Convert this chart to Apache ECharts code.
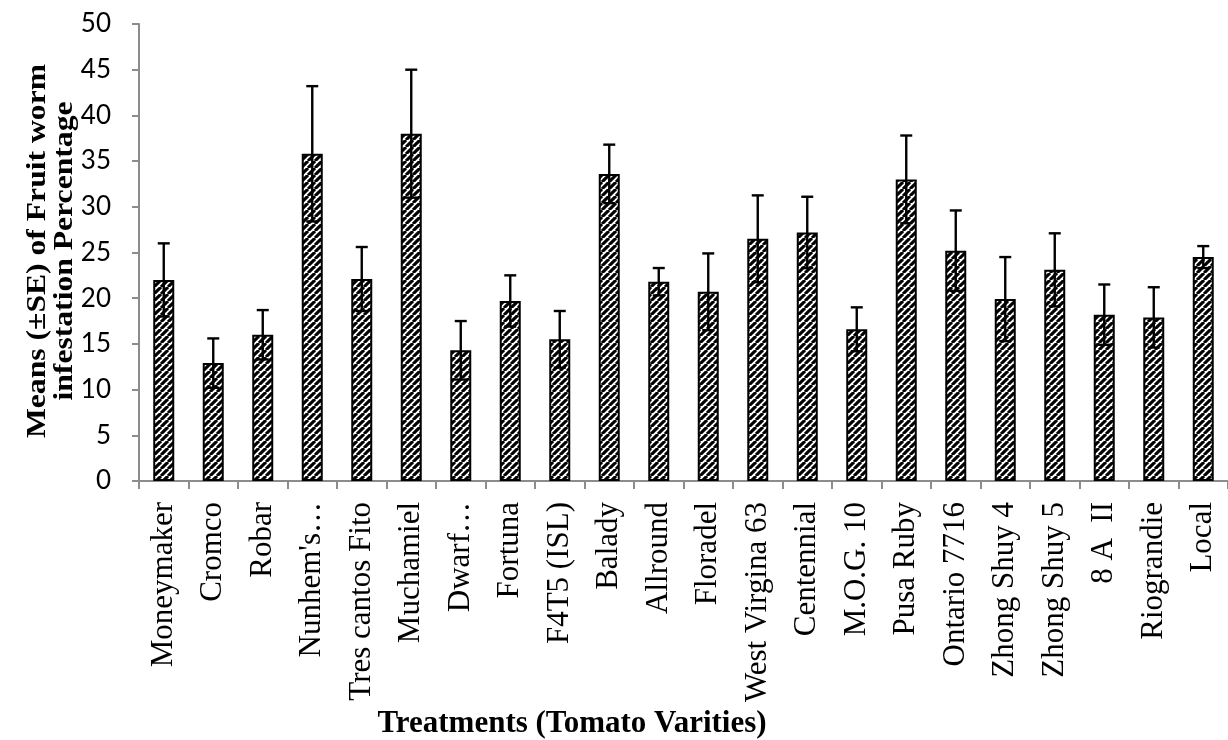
<!DOCTYPE html>
<html>
<head>
<meta charset="utf-8">
<script src="https://cdn.jsdelivr.net/npm/echarts@6/dist/echarts.min.js"></script>
<style>
html,body{margin:0;padding:0;background:#fff;}
#chart{width:1228px;height:740px;}
</style>
</head>
<body>
<div id="chart"></div>
<script>
const categories = ["Moneymaker","Cromco","Robar","Nunhem's…","Tres cantos Fito","Muchamiel","Dwarf…","Fortuna","F4T5 (ISL)","Balady","Allround","Floradel","West Virgina 63","Centennial","M.O.G. 10","Pusa Ruby","Ontario 7716","Zhong Shuy 4","Zhong Shuy 5","8 A  II","Riograndie","Local"];
const means = [22.0, 12.9, 16.0, 35.8, 22.1, 38.0, 14.3, 19.7, 15.5, 33.6, 21.8, 20.7, 26.5, 27.2, 16.6, 33.0, 25.2, 19.9, 23.1, 18.2, 17.9, 24.5];
const se = [4.0, 2.7, 2.7, 7.4, 3.5, 7.0, 3.2, 2.8, 3.1, 3.2, 1.5, 4.2, 4.75, 3.9, 2.4, 4.8, 4.4, 4.6, 4.0, 3.3, 3.3, 1.2];
const yTicks = {min: 0, max: 50, interval: 5};
const yTitle = "Means (±SE) of Fruit worm\ninfestation Percentage";
const xTitle = "Treatments (Tomato Varities)";

function makePattern() {
  const s = 7;
  const c = document.createElement('canvas');
  c.width = s; c.height = s;
  const ctx = c.getContext('2d');
  ctx.fillStyle = '#fff';
  ctx.fillRect(0, 0, s, s);
  ctx.strokeStyle = '#000';
  ctx.lineWidth = 3.1;
  for (let k = -1; k <= 1; k++) {
    ctx.beginPath();
    ctx.moveTo(k * s, s);
    ctx.lineTo(k * s + s, 0);
    ctx.stroke();
  }
  return c;
}

const chart = echarts.init(document.getElementById('chart'), null, {renderer: 'canvas'});
const errData = categories.map((c, i) => [i, means[i] - se[i], means[i] + se[i]]);

chart.setOption({
  animation: false,
  backgroundColor: '#fff',
  grid: {left: 139, top: 24, width: 1098, height: 457, containLabel: false},
  xAxis: {
    type: 'category',
    data: categories,
    axisLine: {lineStyle: {color: '#8c8c8c', width: 2}},
    axisTick: {show: true, length: 8, lineStyle: {color: '#8c8c8c', width: 2}},
    axisLabel: {
      interval: 0, rotate: 90, margin: 21,
      fontFamily: 'Liberation Serif', fontSize: 31, color: '#000'
    }
  },
  yAxis: {
    type: 'value',
    min: yTicks.min, max: yTicks.max, interval: yTicks.interval,
    axisLine: {show: true, lineStyle: {color: '#8c8c8c', width: 2}},
    axisTick: {show: true, length: 7, lineStyle: {color: '#8c8c8c', width: 2}},
    splitLine: {show: false},
    axisLabel: {margin: 28, fontFamily: 'Lato', fontSize: 26, color: '#000'}
  },
  graphic: [
    {
      type: 'text', x: 51, y: 251, rotation: Math.PI / 2, scaleX: 1.13, scaleY: 1,
      style: {
        text: yTitle, textAlign: 'center', textVerticalAlign: 'middle',
        fontFamily: 'Liberation Serif', fontWeight: 'bold', fontSize: 28, lineHeight: 27, fill: '#000'
      }
    },
    {
      type: 'text', x: 572, y: 724,
      style: {
        text: xTitle, textAlign: 'center', textVerticalAlign: 'middle',
        fontFamily: 'Liberation Serif', fontWeight: 'bold', fontSize: 31, fill: '#000'
      }
    }
  ],
  series: [
    {
      type: 'bar',
      data: means,
      barWidth: 21,
      itemStyle: {
        color: {image: makePattern(), repeat: 'repeat'},
        borderColor: '#000', borderWidth: 2
      },
      z: 2
    },
    {
      type: 'custom',
      data: errData,
      encode: {x: 0, y: [1, 2]},
      z: 5,
      renderItem: function (params, api) {
        const x = api.value(0);
        const lo = api.coord([x, api.value(1)]);
        const hi = api.coord([x, api.value(2)]);
        const hw = 6;
        const st = {stroke: '#000', lineWidth: 2.4};
        return {
          type: 'group',
          children: [
            {type: 'line', shape: {x1: hi[0], y1: hi[1], x2: lo[0], y2: lo[1]}, style: st},
            {type: 'line', shape: {x1: hi[0] - hw, y1: hi[1], x2: hi[0] + hw, y2: hi[1]}, style: st},
            {type: 'line', shape: {x1: lo[0] - hw, y1: lo[1], x2: lo[0] + hw, y2: lo[1]}, style: st}
          ]
        };
      }
    }
  ]
});
</script>
</body>
</html>
